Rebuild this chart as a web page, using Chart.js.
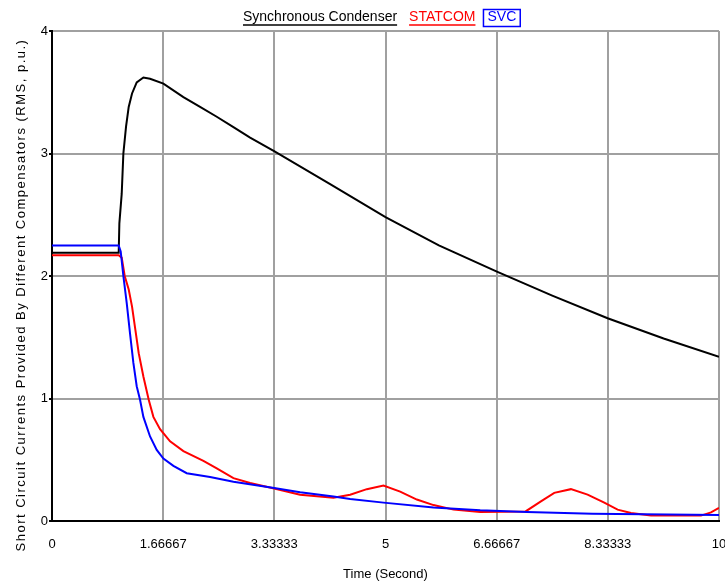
<!DOCTYPE html>
<html>
<head>
<meta charset="utf-8">
<script src="https://cdn.jsdelivr.net/npm/chart.js@4.4.1/dist/chart.umd.min.js"></script>
<style>
    html, body { margin: 0; padding: 0; background: #fff; }
    #wrap { width: 725px; height: 582px; }
</style>
</head>
<body>
<div id="wrap"><canvas id="scChart" width="725" height="582"></canvas></div>
<script>
// Time axis (seconds) and tick labels
const xTickValues = [0, 1.66667, 3.33333, 5, 6.66667, 8.33333, 10];
const xTickLabels = ['0', '1.66667', '3.33333', '5', '6.66667', '8.33333', '10'];

// Synchronous Condenser
const condenserTime = [0, 1.0, 1.01, 1.045, 1.07, 1.11, 1.15, 1.2, 1.27, 1.37, 1.47, 1.67, 1.97, 2.22, 2.47, 2.72, 2.97, 3.33, 4.17, 5, 5.8, 6.67, 7.5, 8.33, 9.17, 10];
const condenserValues = [2.19, 2.19, 2.43, 2.67, 3.0, 3.22, 3.38, 3.49, 3.58, 3.62, 3.61, 3.57, 3.46, 3.38, 3.30, 3.215, 3.13, 3.02, 2.75, 2.48, 2.25, 2.035, 1.84, 1.655, 1.49, 1.34];

// STATCOM
const statcomTime = [0, 1.0, 1.045, 1.09, 1.15, 1.2, 1.25, 1.3, 1.37, 1.45, 1.52, 1.62, 1.77, 1.97, 2.27, 2.47, 2.72, 2.97, 3.33, 3.72, 4.22, 4.47, 4.72, 4.97, 5.22, 5.47, 5.72, 6.02, 6.42, 7.1, 7.33, 7.53, 7.78, 8.03, 8.28, 8.48, 8.68, 8.98, 9.73, 9.88, 10];
const statcomValues = [2.17, 2.17, 2.15, 2.0, 1.89, 1.75, 1.56, 1.37, 1.18, 0.99, 0.85, 0.75, 0.65, 0.57, 0.49, 0.43, 0.35, 0.31, 0.265, 0.215, 0.19, 0.215, 0.26, 0.29, 0.24, 0.175, 0.13, 0.093, 0.074, 0.078, 0.16, 0.23, 0.26, 0.215, 0.15, 0.093, 0.066, 0.044, 0.044, 0.07, 0.107];

// SVC
const svcTime = [0, 1.0, 1.03, 1.07, 1.12, 1.17, 1.22, 1.27, 1.32, 1.37, 1.47, 1.57, 1.67, 1.82, 2.02, 2.37, 2.72, 3.33, 3.72, 4.22, 4.47, 4.97, 5.72, 6.42, 7.12, 8.1, 10];
const svcValues = [2.25, 2.25, 2.2, 2.0, 1.78, 1.53, 1.29, 1.10, 0.99, 0.85, 0.69, 0.58, 0.51, 0.45, 0.39, 0.36, 0.32, 0.27, 0.234, 0.2, 0.18, 0.15, 0.11, 0.087, 0.074, 0.06, 0.048];

const toPoints = (xs, ys) => xs.map((x, i) => ({ x: x, y: ys[i] }));

const FONT = "'Liberation Sans', Arial, sans-serif";

// legend drawn like the original: coloured text, underline, box round the last item
const topLegend = {
    id: 'topLegend',
    afterDraw(chart) {
        const ctx = chart.ctx;
        const sets = chart.data.datasets;
        ctx.save();
        ctx.font = '14px ' + FONT;
        ctx.textBaseline = 'alphabetic';
        let x = 243;
        sets.forEach((ds, i) => {
            const w = ctx.measureText(ds.label).width;
            ctx.fillStyle = ds.borderColor;
            ctx.fillText(ds.label, x, 21);
            ctx.strokeStyle = ds.borderColor;
            ctx.lineWidth = 1.5;
            if (i === sets.length - 1) {
                ctx.strokeRect(x - 4, 9.5, w + 8, 17);
            } else {
                ctx.beginPath();
                ctx.moveTo(x, 25);
                ctx.lineTo(x + w, 25);
                ctx.stroke();
            }
            x += w + 12;
        });
        // y axis title
        ctx.fillStyle = '#000';
        ctx.font = '13px ' + FONT;
        ctx.letterSpacing = '1.5px';
        ctx.translate(21, 295);
        ctx.rotate(-Math.PI / 2);
        ctx.textAlign = 'center';
        ctx.textBaseline = 'middle';
        ctx.fillText('Short Circuit Currents Provided By Different Compensators (RMS, p.u.)', 0, 0);
        ctx.restore();
    }
};

new Chart(document.getElementById('scChart'), {
    type: 'scatter',
    data: {
        datasets: [{
            label: 'Synchronous Condenser',
            data: toPoints(condenserTime, condenserValues),
            borderColor: '#000000',
            order: 2
        }, {
            label: 'STATCOM',
            data: toPoints(statcomTime, statcomValues),
            borderColor: '#ff0000',
            order: 1
        }, {
            label: 'SVC',
            data: toPoints(svcTime, svcValues),
            borderColor: '#0000ff',
            order: 0
        }]
    },
    options: {
        responsive: false,
        animation: false,
        showLine: true,
        elements: {
            point: { radius: 0 },
            line: { borderWidth: 2, tension: 0 }
        },
        layout: { padding: { top: 31, right: 6, left: 0, bottom: 0 } },
        plugins: {
            legend: { display: false },
            tooltip: { enabled: false }
        },
        scales: {
            x: {
                type: 'linear',
                min: 0,
                max: 10,
                afterBuildTicks: scale => {
                    scale.ticks = xTickValues.map(v => ({ value: v }));
                },
                afterFit: scale => {
                    scale.height = 61;
                    scale.paddingLeft = 0;
                    scale.paddingRight = 0;
                },
                ticks: {
                    color: '#000',
                    font: { family: FONT, size: 13 },
                    padding: 16,
                    maxRotation: 0,
                    autoSkip: false,
                    callback: (v, i) => xTickLabels[i]
                },
                grid: { color: '#a0a0a0', lineWidth: 2, drawTicks: false },
                border: { color: '#000', width: 2 },
                title: {
                    display: true,
                    text: 'Time (Second)',
                    color: '#000',
                    font: { family: FONT, size: 13 },
                    padding: { top: 6, bottom: 0 }
                }
            },
            y: {
                min: 0,
                max: 4,
                afterFit: scale => {
                    scale.width = 52;
                    scale.paddingTop = 0;
                    scale.paddingBottom = 0;
                },
                ticks: {
                    stepSize: 1,
                    color: '#000',
                    font: { family: FONT, size: 13 },
                    padding: 1
                },
                grid: { color: '#a0a0a0', lineWidth: 2, tickLength: 3, tickColor: '#000' },
                border: { color: '#000', width: 2 }
            }
        }
    },
    plugins: [topLegend]
});
</script>
</body>
</html>
